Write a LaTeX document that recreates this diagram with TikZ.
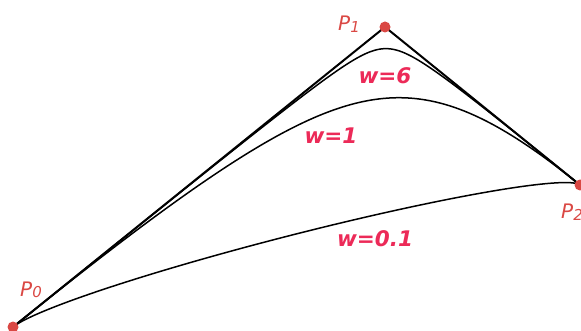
\documentclass[tikz,border=0pt]{standalone}
\usepackage{fontspec}
\newfontfamily\lab{DejaVu Sans}
\definecolor{ptred}{RGB}{218,72,68}
\definecolor{wred}{RGB}{236,42,88}
\begin{document}
\begin{tikzpicture}[x=1pt,y=-1pt,
  poly/.style={line width=2pt, black, line join=round},
  curve/.style={line width=1.5pt, black},
  dot/.style={circle, fill=ptred, inner sep=0pt, minimum size=11pt},
  plab/.style={text=ptred, font=\lab\itshape\fontsize{20}{20}\selectfont, inner sep=0pt},
  wlab/.style={text=wred, font=\lab\bfseries\itshape\fontsize{21.5}{24}\selectfont, inner sep=0pt}]
\useasboundingbox (0,0) rectangle (581,331);
\coordinate (P0) at (13,327);
\coordinate (P1) at (385,27);
\coordinate (P2) at (580,185);
% control polygon
\draw[poly] (P0) -- (P1) -- (P2);
% rational quadratic curves
\draw[curve] plot[domain=0:1,samples=400,variable=\t]
  ({((1-\t)^2*13+2*9*\t*(1-\t)*385+\t^2*580)/((1-\t)^2+2*9*\t*(1-\t)+\t^2)},
   {((1-\t)^2*327+2*9*\t*(1-\t)*27+\t^2*185)/((1-\t)^2+2*9*\t*(1-\t)+\t^2)});
\draw[curve] plot[domain=0:1,samples=400,variable=\t]
  ({((1-\t)^2*13+2*2*\t*(1-\t)*385+\t^2*580)/((1-\t)^2+2*2*\t*(1-\t)+\t^2)},
   {((1-\t)^2*327+2*2*\t*(1-\t)*27+\t^2*185)/((1-\t)^2+2*2*\t*(1-\t)+\t^2)});
\draw[curve] plot[domain=0:1,samples=400,variable=\t]
  ({((1-\t)^2*13+2*0.12*\t*(1-\t)*385+\t^2*580)/((1-\t)^2+2*0.12*\t*(1-\t)+\t^2)},
   {((1-\t)^2*327+2*0.12*\t*(1-\t)*27+\t^2*185)/((1-\t)^2+2*0.12*\t*(1-\t)+\t^2)});
% points
\node[dot] (d0) at (P0) {};
\node[dot] (d1) at (P1) {};
\node[dot] (d2) at (P2) {};
% labels
\node[plab] (l0) at (31,290) {P\raisebox{-1pt}{\fontsize{15}{15}\selectfont 0}};
\node[plab] (l1) at (349,24) {P\raisebox{-2pt}{\fontsize{15}{15}\selectfont 1}};
\node[plab, anchor=west] (l2) at (561,212) {P\raisebox{-2pt}{\fontsize{15}{15}\selectfont 2}};
\node[wlab] (w6) at (385,76) {w=6};
\node[wlab] (w1) at (331,136) {w=1};
\node[wlab] (w01) at (375,239) {w=0.1};
\end{tikzpicture}
\end{document}
